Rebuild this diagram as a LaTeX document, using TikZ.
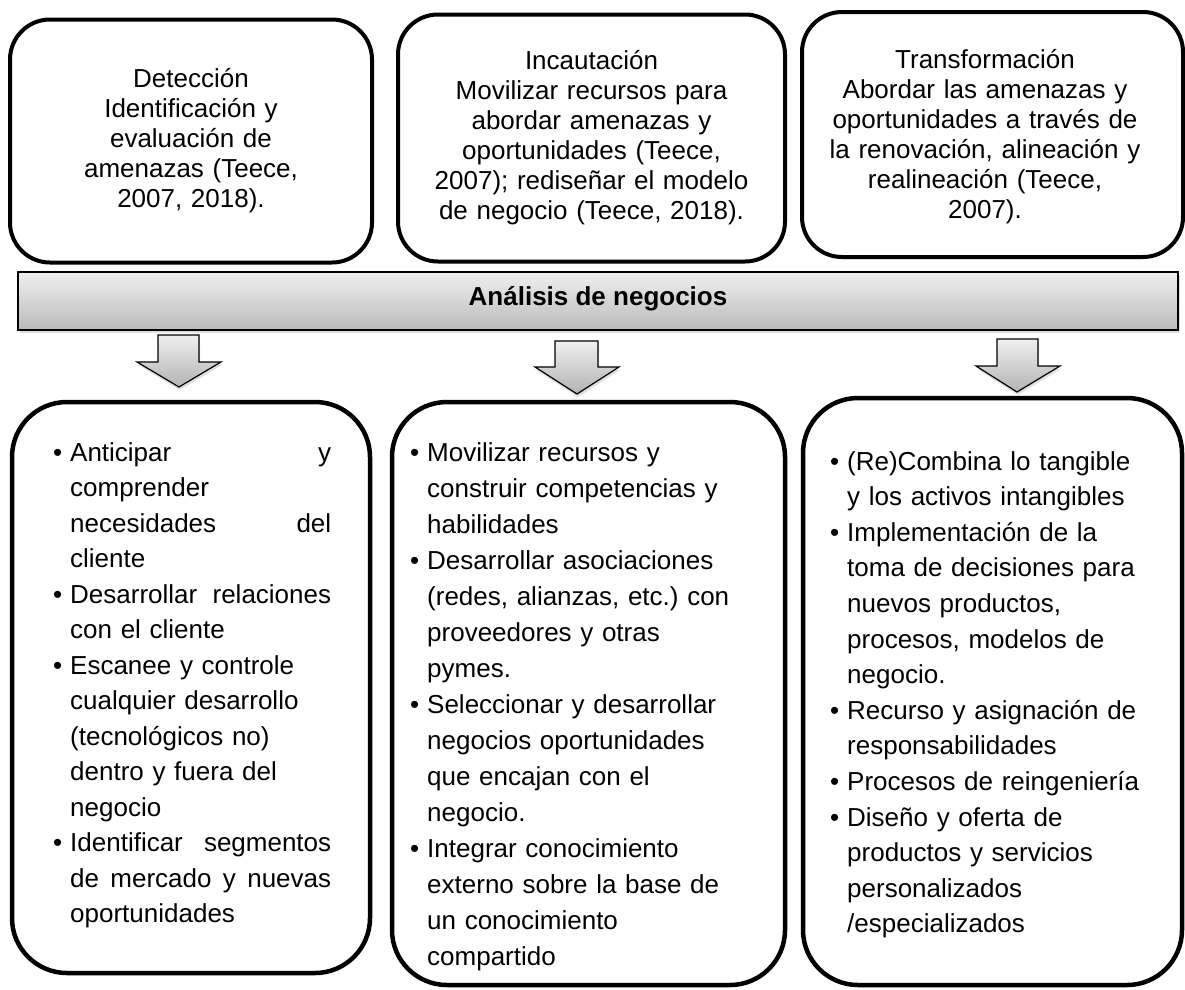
\documentclass[tikz,border=0pt]{standalone}
\usepackage{fontspec}
\setmainfont{Liberation Sans}
\usetikzlibrary{shadows}
\newcommand{\bitem}{\makebox[17pt][l]{•}}
\newcommand{\bcont}{\hspace*{17pt}}
\newcommand{\jline}[1]{\makebox[261pt][l]{#1}}
\begin{document}
\frenchspacing
\begin{tikzpicture}[x=1pt,y=-1pt,
  topbox/.style={draw=black, line width=4pt, rounded corners=40pt, align=center,
    text width=345pt, inner sep=0pt, font=\fontsize{26}{30}\selectfont},
  toptext/.style={align=center, text width=345pt, inner sep=0pt,
    font=\fontsize{26}{30}\selectfont},
  botbox/.style={draw=black, line width=4.5pt, rounded corners=55pt, inner sep=0pt},
  bultext/.style={anchor=base west, inner sep=0pt, align=left, text width=330pt,
    font=\fontsize{26}{35.5}\selectfont},
  bannerbox/.style={draw=black, line width=1.2pt, top color=black!6, bottom color=black!27,
    font=\bfseries\fontsize{26}{30}\selectfont, inner sep=0pt,
    text height=14pt, text depth=6pt,
    drop shadow={opacity=0.25, shadow xshift=1.5pt, shadow yshift=-3pt}},
  blockarrow/.style={draw=black, line width=1.2pt, top color=black!6, bottom color=black!30,
    line join=miter, drop shadow={opacity=0.25, shadow xshift=1pt, shadow yshift=-3pt}}
]
\useasboundingbox (0,0) rectangle (1185,989);
\fill[white] (0,0) rectangle (1185,989);

% top boxes
\node[topbox, minimum width=362pt, minimum height=243pt] (t1) at (191,141)
  {Detección\\ Identificación y\\ evaluación de\\ amenazas (Teece,\\ 2007, 2018).};
\node[topbox, minimum width=387pt, minimum height=247pt] (t2) at (591.5,138)
  {Incautación\\ Movilizar recursos para\\ abordar amenazas y\\ oportunidades (Teece,\\ 2007); rediseñar el modelo\\ de negocio (Teece, 2018).};
\node[topbox, minimum width=381pt, minimum height=245pt] (t3) at (992.5,134.5) {};
\node[toptext] (t3text) at (985,137)
  {Transformación\\ Abordar las amenazas y\\ oportunidades a través de\\ la renovación, alineación y\\ realineación (Teece,\\ 2007).};

% banner
\node[bannerbox, minimum width=1160pt, minimum height=58pt] (ban) at (598,301)
  {Análisis de negocios};

% block arrows
\draw[blockarrow] (158,335) -- (199,335) -- (199,362) -- (221,362) -- (179,387)
  -- (137,362) -- (158,362) -- cycle;
\draw[blockarrow] (555,341) -- (598,341) -- (598,367) -- (619,367) -- (577,394)
  -- (535,367) -- (555,367) -- cycle;
\draw[blockarrow] (997,339) -- (1038,339) -- (1038,366) -- (1060,366) -- (1017,392)
  -- (976,366) -- (997,366) -- cycle;

% bottom boxes
\node[botbox, minimum width=358pt, minimum height=571pt] (b1) at (191,687.5) {};
\node[botbox, minimum width=393pt, minimum height=583pt] (b2) at (588.5,693.5) {};
\node[botbox, minimum width=379pt, minimum height=587pt] (b3) at (992.5,691.5) {};

\node[bultext] (x1) at (53,461) {%
\bitem\jline{Anticipar\hfill y}\\
\bcont comprender\\
\bcont\jline{necesidades\hfill del}\\
\bcont cliente\\
\bitem\jline{Desarrollar\hfill relaciones}\\
\bcont con el cliente\\
\bitem Escanee y controle\\
\bcont cualquier desarrollo\\
\bcont (tecnológicos no)\\
\bcont dentro y fuera del\\
\bcont negocio\\
\bitem\jline{Identificar\hfill segmentos}\\
\bcont\jline{de\hfill mercado\hfill y\hfill nuevas}\\
\bcont oportunidades};

\node[bultext, font=\fontsize{26}{36}\selectfont] (x2) at (410,461) {%
\bitem Movilizar recursos y\\
\bcont construir competencias y\\
\bcont habilidades\\
\bitem Desarrollar asociaciones\\
\bcont (redes, alianzas, etc.) con\\
\bcont proveedores y otras\\
\bcont pymes.\\
\bitem Seleccionar y desarrollar\\
\bcont negocios oportunidades\\
\bcont que encajan con el\\
\bcont negocio.\\
\bitem Integrar conocimiento\\
\bcont externo sobre la base de\\
\bcont un conocimiento\\
\bcont compartido};

\node[bultext, font=\fontsize{26}{35.6}\selectfont] (x3) at (830,470) {%
\bitem (Re)Combina lo tangible\\
\bcont y los activos intangibles\\
\bitem Implementación de la\\
\bcont toma de decisiones para\\
\bcont nuevos productos,\\
\bcont procesos, modelos de\\
\bcont negocio.\\
\bitem Recurso y asignación de\\
\bcont responsabilidades\\
\bitem Procesos de reingeniería\\
\bitem Diseño y oferta de\\
\bcont productos y servicios\\
\bcont personalizados\\
\bcont /especializados};
\end{tikzpicture}
\end{document}
